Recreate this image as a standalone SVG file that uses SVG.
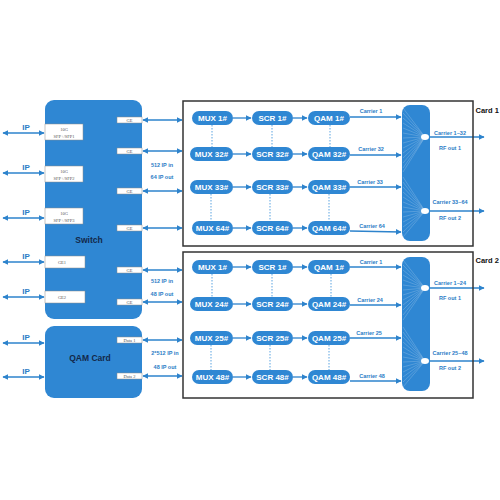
<svg xmlns="http://www.w3.org/2000/svg" width="500" height="500" viewBox="0 0 500 500">
<defs>
<marker id="ah" viewBox="0 0 10 10" refX="9" refY="5" markerWidth="6" markerHeight="6" orient="auto-start-reverse" markerUnits="userSpaceOnUse">
<path d="M0,0 L10,5 L0,10 z" fill="#2d83cc"/>
</marker>
<style>
.blk{fill:#2f87d3}
.pill{fill:#2f87d3}
.pt{font-family:"Liberation Sans",Arial,sans-serif;font-weight:bold;font-size:8px;fill:#fff;text-anchor:middle}
.ln{stroke:#2d83cc;stroke-width:1.3;fill:none}
.bi{stroke:#2d83cc;stroke-width:1.3;fill:none;marker-start:url(#ah);marker-end:url(#ah)}
.one{stroke:#2d83cc;stroke-width:1.3;fill:none;marker-end:url(#ah)}
.dot{stroke:#5aa3e0;stroke-width:1;stroke-dasharray:1.5,1.5;fill:none}
.lbl{font-family:"Liberation Sans",Arial,sans-serif;font-weight:bold;font-size:5.5px;fill:#2b7cc6;text-anchor:middle}
.ip{font-family:"Liberation Sans",Arial,sans-serif;font-weight:bold;font-size:8px;fill:#2b7cc6;text-anchor:middle}
.port{fill:#fff;stroke:#8a8a8a;stroke-width:0.5}
.ptx{font-family:"Liberation Serif","Times New Roman",serif;font-size:4.5px;fill:#555;text-anchor:middle}
.frame{fill:none;stroke:#333;stroke-width:1.5}
.card{font-family:"Liberation Sans",Arial,sans-serif;font-weight:bold;font-size:7.5px;fill:#111}
.big{font-family:"Liberation Sans",Arial,sans-serif;font-weight:bold;font-size:8.5px;fill:#13294a;text-anchor:middle}
.fan{stroke:#fff;stroke-width:0.35;opacity:0.55}
</style>
</defs>
<rect width="500" height="500" fill="#fff"/>

<g id="switch">
<rect class="blk" x="45" y="100" width="97" height="219" rx="9"/>
<text class="big" x="89" y="243">Switch</text>
<rect class="port" x="45" y="124" width="38" height="16"/>
<text class="ptx" x="64" y="131">10G</text><text class="ptx" x="64" y="137.5">SFP+/SFP1</text>
<rect class="port" x="45" y="166" width="38" height="16"/>
<text class="ptx" x="64" y="173">10G</text><text class="ptx" x="64" y="179.5">SFP+/SFP2</text>
<rect class="port" x="45" y="208" width="38" height="16"/>
<text class="ptx" x="64" y="215">10G</text><text class="ptx" x="64" y="221.5">SFP+/SFP3</text>
<rect class="port" x="45" y="256" width="40" height="12"/>
<text class="ptx" x="62" y="263.5">GE1</text>
<rect class="port" x="45" y="291" width="40" height="12"/>
<text class="ptx" x="62" y="298.5">GE2</text>
<rect class="port" x="117" y="117" width="25" height="6"/><text class="ptx" x="129.5" y="121.5">GE</text>
<rect class="port" x="117" y="148" width="25" height="6"/><text class="ptx" x="129.5" y="152.5">GE</text>
<rect class="port" x="117" y="188" width="25" height="6"/><text class="ptx" x="129.5" y="192.5">GE</text>
<rect class="port" x="117" y="225" width="25" height="6"/><text class="ptx" x="129.5" y="229.5">GE</text>
<rect class="port" x="117" y="267" width="25" height="6"/><text class="ptx" x="129.5" y="271.5">GE</text>
<rect class="port" x="117" y="299" width="25" height="6"/><text class="ptx" x="129.5" y="303.5">GE</text>
</g>

<g id="qamcard">
<rect class="blk" x="45" y="326" width="97" height="72" rx="9"/>
<text class="big" x="90" y="361">QAM Card</text>
<rect class="port" x="117" y="337" width="25" height="6"/><text class="ptx" x="129.5" y="341.5">Data 1</text>
<rect class="port" x="117" y="373" width="25" height="6"/><text class="ptx" x="129.5" y="377.5">Data 2</text>
</g>

<g id="connectors">
<line class="bi" x1="3" y1="133" x2="44" y2="133"/>
<line class="bi" x1="3" y1="173" x2="44" y2="173"/>
<line class="bi" x1="3" y1="218" x2="44" y2="218"/>
<line class="bi" x1="3" y1="262" x2="44" y2="262"/>
<line class="bi" x1="3" y1="297" x2="44" y2="297"/>
<line class="bi" x1="3" y1="343" x2="44" y2="343"/>
<line class="bi" x1="3" y1="377" x2="44" y2="377"/>
<line class="bi" x1="143" y1="120" x2="182" y2="120"/>
<line class="bi" x1="143" y1="151" x2="182" y2="151"/>
<line class="bi" x1="143" y1="191" x2="182" y2="191"/>
<line class="bi" x1="143" y1="228" x2="182" y2="228"/>
<line class="bi" x1="143" y1="270" x2="182" y2="270"/>
<line class="bi" x1="143" y1="302" x2="182" y2="302"/>
<line class="bi" x1="143" y1="340" x2="182" y2="340"/>
<line class="bi" x1="143" y1="376" x2="182" y2="376"/>
<line class="one" x1="233" y1="118" x2="251" y2="118"/><line class="one" x1="293" y1="118" x2="307" y2="118"/>
<line class="one" x1="233" y1="154" x2="251" y2="154"/><line class="one" x1="293" y1="154" x2="307" y2="154"/>
<line class="one" x1="233" y1="187" x2="251" y2="187"/><line class="one" x1="293" y1="187" x2="307" y2="187"/>
<line class="one" x1="233" y1="228" x2="251" y2="228"/><line class="one" x1="293" y1="228" x2="307" y2="228"/>
<line class="one" x1="350" y1="117" x2="401" y2="117"/>
<line class="one" x1="350" y1="155" x2="401" y2="155"/>
<line class="one" x1="350" y1="187" x2="401" y2="187"/>
<line class="one" x1="350" y1="231" x2="401" y2="232"/>
<line class="one" x1="430" y1="137" x2="484" y2="137"/>
<line class="one" x1="430" y1="211" x2="484" y2="211"/>
<line class="one" x1="233" y1="267" x2="251" y2="267"/><line class="one" x1="293" y1="267" x2="307" y2="267"/>
<line class="one" x1="233" y1="304" x2="251" y2="304"/><line class="one" x1="293" y1="304" x2="307" y2="304"/>
<line class="one" x1="233" y1="338" x2="251" y2="338"/><line class="one" x1="293" y1="338" x2="307" y2="338"/>
<line class="one" x1="233" y1="377" x2="251" y2="377"/><line class="one" x1="293" y1="377" x2="307" y2="377"/>
<line class="one" x1="350" y1="267" x2="401" y2="267"/>
<line class="one" x1="350" y1="305" x2="401" y2="305"/>
<line class="one" x1="350" y1="338" x2="401" y2="338"/>
<line class="one" x1="350" y1="381" x2="401" y2="381"/>
<line class="one" x1="430" y1="288" x2="484" y2="288"/>
<line class="one" x1="430" y1="361" x2="484" y2="361"/>
<line class="dot" x1="212" y1="125" x2="212" y2="147"/><line class="dot" x1="272" y1="125" x2="272" y2="147"/><line class="dot" x1="330" y1="125" x2="330" y2="147"/>
<line class="dot" x1="211" y1="194" x2="211" y2="221"/><line class="dot" x1="270" y1="194" x2="270" y2="221"/><line class="dot" x1="329" y1="194" x2="329" y2="221"/>
<line class="dot" x1="212" y1="274" x2="212" y2="297"/><line class="dot" x1="272" y1="274" x2="272" y2="297"/><line class="dot" x1="331" y1="274" x2="331" y2="297"/>
<line class="dot" x1="211" y1="345" x2="211" y2="370"/><line class="dot" x1="270" y1="345" x2="270" y2="370"/><line class="dot" x1="329" y1="345" x2="329" y2="370"/>
</g>

<g id="labels">
<text class="ip" x="26" y="130">IP</text>
<text class="ip" x="26" y="170">IP</text>
<text class="ip" x="26" y="215">IP</text>
<text class="ip" x="26" y="259">IP</text>
<text class="ip" x="26" y="294">IP</text>
<text class="ip" x="26" y="340">IP</text>
<text class="ip" x="26" y="374">IP</text>
<text class="lbl" x="162" y="167">512 IP in</text>
<text class="lbl" x="162" y="179">64 IP out</text>
<text class="lbl" x="162" y="283">512 IP in</text>
<text class="lbl" x="162" y="296">48 IP out</text>
<text class="lbl" x="165" y="355">2*512 IP in</text>
<text class="lbl" x="165" y="369">48 IP out</text>
<text class="lbl" x="371" y="113">Carrier 1</text>
<text class="lbl" x="371" y="151">Carrier 32</text>
<text class="lbl" x="370" y="184">Carrier 33</text>
<text class="lbl" x="372" y="228">Carrier 64</text>
<text class="lbl" x="450" y="135">Carrier 1~32</text>
<text class="lbl" x="450" y="150">RF out 1</text>
<text class="lbl" x="450" y="204">Carrier 33~64</text>
<text class="lbl" x="450" y="220">RF out 2</text>
<text class="lbl" x="371" y="264">Carrier 1</text>
<text class="lbl" x="370" y="302">Carrier 24</text>
<text class="lbl" x="369" y="335">Carrier 25</text>
<text class="lbl" x="372" y="378">Carrier 48</text>
<text class="lbl" x="450" y="285">Carrier 1~24</text>
<text class="lbl" x="450" y="300">RF out 1</text>
<text class="lbl" x="450" y="355">Carrier 25~48</text>
<text class="lbl" x="450" y="370">RF out 2</text>
</g>

<g id="card1">
<rect class="frame" x="183" y="101" width="290" height="145"/>
<text class="card" x="475.5" y="113">Card 1</text>
<g id="c1-mux1"><rect class="pill" x="192" y="111" width="41" height="14" rx="7"/><text class="pt" x="212.5" y="121">MUX 1#</text></g>
<g id="c1-scr1"><rect class="pill" x="252" y="111" width="41" height="14" rx="7"/><text class="pt" x="272.5" y="121">SCR 1#</text></g>
<g id="c1-qam1"><rect class="pill" x="308" y="111" width="42" height="14" rx="7"/><text class="pt" x="329" y="121">QAM 1#</text></g>
<g id="c1-mux32"><rect class="pill" x="190" y="147" width="43" height="14" rx="7"/><text class="pt" x="211.5" y="157">MUX 32#</text></g>
<g id="c1-scr32"><rect class="pill" x="252" y="147" width="41" height="14" rx="7"/><text class="pt" x="272.5" y="157">SCR 32#</text></g>
<g id="c1-qam32"><rect class="pill" x="308" y="147" width="42" height="14" rx="7"/><text class="pt" x="329" y="157">QAM 32#</text></g>
<g id="c1-mux33"><rect class="pill" x="190" y="180" width="43" height="14" rx="7"/><text class="pt" x="211.5" y="190">MUX 33#</text></g>
<g id="c1-scr33"><rect class="pill" x="252" y="180" width="41" height="14" rx="7"/><text class="pt" x="272.5" y="190">SCR 33#</text></g>
<g id="c1-qam33"><rect class="pill" x="308" y="180" width="42" height="14" rx="7"/><text class="pt" x="329" y="190">QAM 33#</text></g>
<g id="c1-mux64"><rect class="pill" x="192" y="221" width="41" height="14" rx="7"/><text class="pt" x="212.5" y="231">MUX 64#</text></g>
<g id="c1-scr64"><rect class="pill" x="252" y="221" width="41" height="14" rx="7"/><text class="pt" x="272.5" y="231">SCR 64#</text></g>
<g id="c1-qam64"><rect class="pill" x="308" y="221" width="42" height="14" rx="7"/><text class="pt" x="329" y="231">QAM 64#</text></g>
<g id="c1-combiner">
<rect class="blk" x="402" y="105" width="28" height="136" rx="8"/>
<g class="fan">
<line x1="403" y1="108" x2="425" y2="137"/><line x1="403" y1="113" x2="425" y2="137"/><line x1="403" y1="118" x2="425" y2="137"/><line x1="403" y1="123" x2="425" y2="137"/><line x1="403" y1="128" x2="425" y2="137"/><line x1="403" y1="133" x2="425" y2="137"/><line x1="403" y1="138" x2="425" y2="137"/><line x1="403" y1="143" x2="425" y2="137"/><line x1="403" y1="148" x2="425" y2="137"/><line x1="403" y1="153" x2="425" y2="137"/><line x1="403" y1="158" x2="425" y2="137"/><line x1="403" y1="163" x2="425" y2="137"/><line x1="403" y1="168" x2="425" y2="137"/><line x1="403" y1="172" x2="425" y2="137"/>
<line x1="403" y1="177" x2="425" y2="211"/><line x1="403" y1="182" x2="425" y2="211"/><line x1="403" y1="187" x2="425" y2="211"/><line x1="403" y1="192" x2="425" y2="211"/><line x1="403" y1="197" x2="425" y2="211"/><line x1="403" y1="202" x2="425" y2="211"/><line x1="403" y1="207" x2="425" y2="211"/><line x1="403" y1="212" x2="425" y2="211"/><line x1="403" y1="217" x2="425" y2="211"/><line x1="403" y1="222" x2="425" y2="211"/><line x1="403" y1="227" x2="425" y2="211"/><line x1="403" y1="232" x2="425" y2="211"/><line x1="403" y1="237" x2="425" y2="211"/>
</g>
<ellipse cx="425" cy="137" rx="4" ry="3" fill="#fff"/>
<ellipse cx="425" cy="211" rx="4" ry="3" fill="#fff"/>
</g>
</g>

<g id="card2">
<rect class="frame" x="183" y="252" width="290" height="146"/>
<text class="card" x="475.5" y="263">Card 2</text>
<g id="c2-mux1"><rect class="pill" x="192" y="260" width="41" height="14" rx="7"/><text class="pt" x="212.5" y="270">MUX 1#</text></g>
<g id="c2-scr1"><rect class="pill" x="252" y="260" width="41" height="14" rx="7"/><text class="pt" x="272.5" y="270">SCR 1#</text></g>
<g id="c2-qam1"><rect class="pill" x="308" y="260" width="42" height="14" rx="7"/><text class="pt" x="329" y="270">QAM 1#</text></g>
<g id="c2-mux24"><rect class="pill" x="190" y="297" width="43" height="14" rx="7"/><text class="pt" x="211.5" y="307">MUX 24#</text></g>
<g id="c2-scr24"><rect class="pill" x="252" y="297" width="41" height="14" rx="7"/><text class="pt" x="272.5" y="307">SCR 24#</text></g>
<g id="c2-qam24"><rect class="pill" x="308" y="297" width="42" height="14" rx="7"/><text class="pt" x="329" y="307">QAM 24#</text></g>
<g id="c2-mux25"><rect class="pill" x="190" y="331" width="43" height="14" rx="7"/><text class="pt" x="211.5" y="341">MUX 25#</text></g>
<g id="c2-scr25"><rect class="pill" x="252" y="331" width="41" height="14" rx="7"/><text class="pt" x="272.5" y="341">SCR 25#</text></g>
<g id="c2-qam25"><rect class="pill" x="308" y="331" width="42" height="14" rx="7"/><text class="pt" x="329" y="341">QAM 25#</text></g>
<g id="c2-mux48"><rect class="pill" x="192" y="370" width="41" height="14" rx="7"/><text class="pt" x="212.5" y="380">MUX 48#</text></g>
<g id="c2-scr48"><rect class="pill" x="252" y="370" width="41" height="14" rx="7"/><text class="pt" x="272.5" y="380">SCR 48#</text></g>
<g id="c2-qam48"><rect class="pill" x="308" y="370" width="42" height="14" rx="7"/><text class="pt" x="329" y="380">QAM 48#</text></g>
<g id="c2-combiner">
<rect class="blk" x="402" y="257" width="28" height="134" rx="8"/>
<g class="fan">
<line x1="403" y1="260" x2="425" y2="288"/><line x1="403" y1="265" x2="425" y2="288"/><line x1="403" y1="270" x2="425" y2="288"/><line x1="403" y1="275" x2="425" y2="288"/><line x1="403" y1="280" x2="425" y2="288"/><line x1="403" y1="285" x2="425" y2="288"/><line x1="403" y1="290" x2="425" y2="288"/><line x1="403" y1="295" x2="425" y2="288"/><line x1="403" y1="300" x2="425" y2="288"/><line x1="403" y1="305" x2="425" y2="288"/><line x1="403" y1="310" x2="425" y2="288"/><line x1="403" y1="315" x2="425" y2="288"/><line x1="403" y1="320" x2="425" y2="288"/>
<line x1="403" y1="327" x2="425" y2="361"/><line x1="403" y1="332" x2="425" y2="361"/><line x1="403" y1="337" x2="425" y2="361"/><line x1="403" y1="342" x2="425" y2="361"/><line x1="403" y1="347" x2="425" y2="361"/><line x1="403" y1="352" x2="425" y2="361"/><line x1="403" y1="357" x2="425" y2="361"/><line x1="403" y1="362" x2="425" y2="361"/><line x1="403" y1="367" x2="425" y2="361"/><line x1="403" y1="372" x2="425" y2="361"/><line x1="403" y1="377" x2="425" y2="361"/><line x1="403" y1="382" x2="425" y2="361"/><line x1="403" y1="387" x2="425" y2="361"/>
</g>
<ellipse cx="425" cy="288" rx="4" ry="3" fill="#fff"/>
<ellipse cx="425" cy="361" rx="4" ry="3" fill="#fff"/>
</g>
</g>
</svg>
